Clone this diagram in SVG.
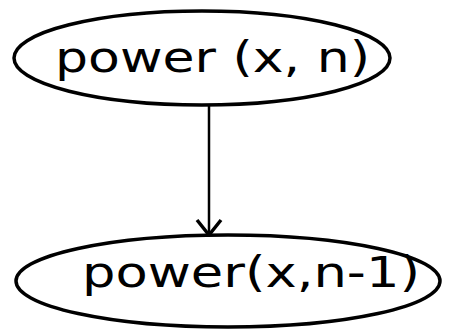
<svg xmlns="http://www.w3.org/2000/svg" width="452" height="331" viewBox="0 0 452 331">
<style>
.node ellipse{fill:none;stroke:#000;stroke-width:3.5}
.node text{font-family:"DejaVu Sans",sans-serif;font-size:42px;fill:#000}
.edge{stroke:#000;stroke-width:2.5;fill:none}
</style>
<defs>
<marker id="arr" viewBox="0 0 20 30" refX="19" refY="15" markerWidth="20" markerHeight="30" markerUnits="userSpaceOnUse" orient="auto">
<path d="M4,3 L19,15 L4,27" fill="none" stroke="#000" stroke-width="3.5"/>
</marker>
</defs>
<g id="node1" class="node">
<ellipse cx="202" cy="58" rx="188" ry="47"/>
<text x="55" y="72" textLength="315" lengthAdjust="spacingAndGlyphs">power (x, n)</text>
</g>
<g id="node2" class="node">
<ellipse cx="228" cy="281" rx="212" ry="46"/>
<text x="82" y="287" textLength="338" lengthAdjust="spacingAndGlyphs">power(x,n-1)</text>
</g>
<g id="connectors">
<line class="edge" x1="209" y1="105" x2="209" y2="235" marker-end="url(#arr)"/>
</g>
</svg>
